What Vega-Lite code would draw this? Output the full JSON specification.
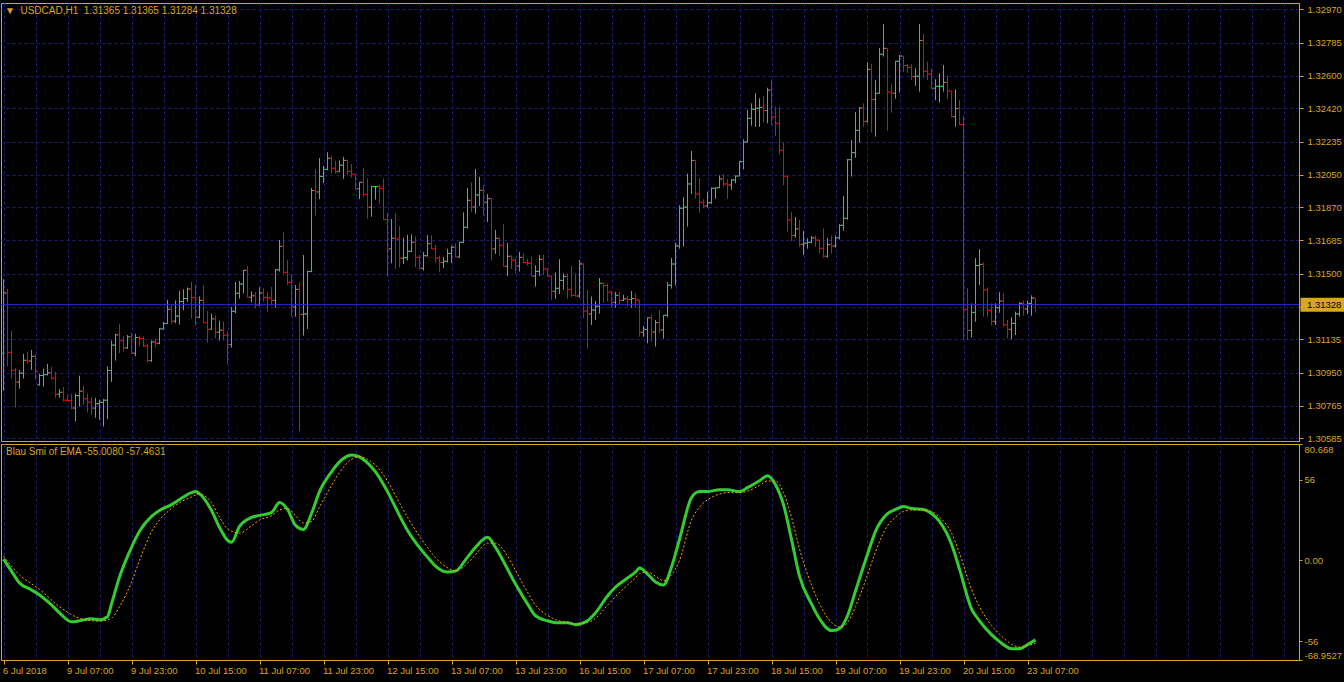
{
"$schema":"https://vega.github.io/schema/vega-lite/v6.json",
"background":"#000000",
"padding":{"left":0,"top":2,"right":10,"bottom":8},
"spacing":3,
"bounds":"flush",
"config":{
"view":{"stroke":"#DAA520","strokeWidth":1,"fill":"#000000"},
"axis":{"labelFont":"Liberation Sans","labelFontSize":9.5,"labelColor":"#DAA520","domainColor":"#DAA520","tickColor":"#DAA520","title":null},
"title":{"font":"Liberation Sans","fontSize":10,"fontWeight":"normal","color":"#DAA520","anchor":"start","frame":"group"}
},
"datasets":{
"bars":[
{"i":0,"o":1.31058,"h":1.31469,"l":1.30850,"c":1.31393},
{"i":1,"o":1.31393,"h":1.31415,"l":1.30984,"c":1.31063},
{"i":2,"o":1.31063,"h":1.31182,"l":1.30917,"c":1.30963},
{"i":3,"o":1.30963,"h":1.30976,"l":1.30756,"c":1.30897},
{"i":4,"o":1.30897,"h":1.30965,"l":1.30861,"c":1.30947},
{"i":5,"o":1.30947,"h":1.31054,"l":1.30917,"c":1.31019},
{"i":6,"o":1.31019,"h":1.31065,"l":1.31002,"c":1.31015},
{"i":7,"o":1.31015,"h":1.31076,"l":1.30965,"c":1.31041},
{"i":8,"o":1.31041,"h":1.31054,"l":1.30910,"c":1.30958},
{"i":9,"o":1.30882,"h":1.30943,"l":1.30878,"c":1.30934},
{"i":10,"o":1.30934,"h":1.30971,"l":1.30873,"c":1.30939},
{"i":11,"o":1.30939,"h":1.30999,"l":1.30934,"c":1.30949},
{"i":12,"o":1.30949,"h":1.30982,"l":1.30910,"c":1.30919},
{"i":13,"o":1.30919,"h":1.30956,"l":1.30811,"c":1.30830},
{"i":14,"o":1.30830,"h":1.30859,"l":1.30811,"c":1.30841},
{"i":15,"o":1.30841,"h":1.30870,"l":1.30789,"c":1.30797},
{"i":16,"o":1.30797,"h":1.30827,"l":1.30789,"c":1.30795},
{"i":17,"o":1.30795,"h":1.30833,"l":1.30747,"c":1.30753},
{"i":18,"o":1.30753,"h":1.30833,"l":1.30679,"c":1.30822},
{"i":19,"o":1.30822,"h":1.30933,"l":1.30762,"c":1.30847},
{"i":20,"o":1.30847,"h":1.30877,"l":1.30771,"c":1.30805},
{"i":21,"o":1.30805,"h":1.30833,"l":1.30728,"c":1.30786},
{"i":22,"o":1.30786,"h":1.30814,"l":1.30715,"c":1.30753},
{"i":23,"o":1.30753,"h":1.30810,"l":1.30699,"c":1.30777},
{"i":24,"o":1.30777,"h":1.30799,"l":1.30688,"c":1.30785},
{"i":25,"o":1.30785,"h":1.30804,"l":1.30651,"c":1.30797},
{"i":26,"o":1.30797,"h":1.30984,"l":1.30691,"c":1.30962},
{"i":27,"o":1.30962,"h":1.31129,"l":1.30899,"c":1.31103},
{"i":28,"o":1.31103,"h":1.31166,"l":1.31017,"c":1.31160},
{"i":29,"o":1.31160,"h":1.31221,"l":1.31058,"c":1.31127},
{"i":30,"o":1.31127,"h":1.31151,"l":1.31067,"c":1.31088},
{"i":31,"o":1.31088,"h":1.31160,"l":1.31082,"c":1.31149},
{"i":32,"o":1.31149,"h":1.31173,"l":1.31054,"c":1.31058},
{"i":33,"o":1.31058,"h":1.31166,"l":1.31041,"c":1.31145},
{"i":34,"o":1.31145,"h":1.31156,"l":1.31099,"c":1.31140},
{"i":35,"o":1.31140,"h":1.31152,"l":1.31093,"c":1.31099},
{"i":36,"o":1.31099,"h":1.31110,"l":1.31006,"c":1.31017},
{"i":37,"o":1.31017,"h":1.31129,"l":1.31010,"c":1.31121},
{"i":38,"o":1.31121,"h":1.31141,"l":1.31091,"c":1.31113},
{"i":39,"o":1.31113,"h":1.31197,"l":1.31108,"c":1.31193},
{"i":40,"o":1.31193,"h":1.31232,"l":1.31189,"c":1.31223},
{"i":41,"o":1.31223,"h":1.31354,"l":1.31220,"c":1.31302},
{"i":42,"o":1.31302,"h":1.31327,"l":1.31221,"c":1.31236},
{"i":43,"o":1.31236,"h":1.31351,"l":1.31225,"c":1.31264},
{"i":44,"o":1.31264,"h":1.31404,"l":1.31217,"c":1.31345},
{"i":45,"o":1.31345,"h":1.31414,"l":1.31297,"c":1.31362},
{"i":46,"o":1.31362,"h":1.31423,"l":1.31345,"c":1.31415},
{"i":47,"o":1.31415,"h":1.31454,"l":1.31251,"c":1.31367},
{"i":48,"o":1.31367,"h":1.31440,"l":1.31212,"c":1.31258},
{"i":49,"o":1.31258,"h":1.31373,"l":1.31252,"c":1.31352},
{"i":50,"o":1.31352,"h":1.31434,"l":1.31225,"c":1.31228},
{"i":51,"o":1.31228,"h":1.31293,"l":1.31117,"c":1.31191},
{"i":52,"o":1.31191,"h":1.31278,"l":1.31188,"c":1.31249},
{"i":53,"o":1.31249,"h":1.31267,"l":1.31141,"c":1.31175},
{"i":54,"o":1.31175,"h":1.31239,"l":1.31129,"c":1.31186},
{"i":55,"o":1.31186,"h":1.31234,"l":1.31129,"c":1.31158},
{"i":56,"o":1.31158,"h":1.31178,"l":1.30999,"c":1.31106},
{"i":57,"o":1.31106,"h":1.31314,"l":1.31089,"c":1.31291},
{"i":58,"o":1.31291,"h":1.31454,"l":1.31280,"c":1.31391},
{"i":59,"o":1.31391,"h":1.31460,"l":1.31362,"c":1.31443},
{"i":60,"o":1.31443,"h":1.31521,"l":1.31391,"c":1.31519},
{"i":61,"o":1.31519,"h":1.31543,"l":1.31367,"c":1.31369},
{"i":62,"o":1.31369,"h":1.31401,"l":1.31340,"c":1.31377},
{"i":63,"o":1.31377,"h":1.31397,"l":1.31308,"c":1.31327},
{"i":64,"o":1.31327,"h":1.31425,"l":1.31321,"c":1.31393},
{"i":65,"o":1.31393,"h":1.31419,"l":1.31345,"c":1.31369},
{"i":66,"o":1.31369,"h":1.31399,"l":1.31289,"c":1.31365},
{"i":67,"o":1.31365,"h":1.31426,"l":1.31323,"c":1.31352},
{"i":68,"o":1.31352,"h":1.31526,"l":1.31311,"c":1.31522},
{"i":69,"o":1.31522,"h":1.31688,"l":1.31512,"c":1.31652},
{"i":70,"o":1.31652,"h":1.31732,"l":1.31499,"c":1.31508},
{"i":71,"o":1.31508,"h":1.31576,"l":1.31437,"c":1.31452},
{"i":72,"o":1.31452,"h":1.31493,"l":1.31261,"c":1.31315},
{"i":73,"o":1.31315,"h":1.31437,"l":1.31261,"c":1.31413},
{"i":74,"o":1.31413,"h":1.31452,"l":1.30626,"c":1.31274},
{"i":75,"o":1.31274,"h":1.31604,"l":1.31156,"c":1.31276},
{"i":76,"o":1.31276,"h":1.31517,"l":1.31193,"c":1.31512},
{"i":77,"o":1.31512,"h":1.31977,"l":1.31508,"c":1.31962},
{"i":78,"o":1.31962,"h":1.32080,"l":1.31823,"c":1.31955},
{"i":79,"o":1.31955,"h":1.32143,"l":1.31915,"c":1.32041},
{"i":80,"o":1.32041,"h":1.32099,"l":1.32003,"c":1.32080},
{"i":81,"o":1.32080,"h":1.32175,"l":1.32075,"c":1.32142},
{"i":82,"o":1.32142,"h":1.32156,"l":1.32058,"c":1.32086},
{"i":83,"o":1.32086,"h":1.32127,"l":1.32056,"c":1.32069},
{"i":84,"o":1.32069,"h":1.32130,"l":1.32066,"c":1.32103},
{"i":85,"o":1.32103,"h":1.32149,"l":1.32027,"c":1.32130},
{"i":86,"o":1.32130,"h":1.32134,"l":1.32047,"c":1.32069},
{"i":87,"o":1.32069,"h":1.32110,"l":1.32034,"c":1.32053},
{"i":88,"o":1.32053,"h":1.32054,"l":1.31966,"c":1.31973},
{"i":89,"o":1.31973,"h":1.32010,"l":1.31915,"c":1.32008},
{"i":90,"o":1.32008,"h":1.32088,"l":1.31928,"c":1.31941},
{"i":91,"o":1.31941,"h":1.32029,"l":1.31806,"c":1.31869},
{"i":92,"o":1.31869,"h":1.31988,"l":1.31817,"c":1.31984},
{"i":93,"o":1.31984,"h":1.31988,"l":1.31912,"c":1.31984},
{"i":94,"o":1.31984,"h":1.31993,"l":1.31888,"c":1.31975},
{"i":95,"o":1.31975,"h":1.32030,"l":1.31799,"c":1.31801},
{"i":96,"o":1.31801,"h":1.31840,"l":1.31484,"c":1.31638},
{"i":97,"o":1.31638,"h":1.31804,"l":1.31558,"c":1.31697},
{"i":98,"o":1.31697,"h":1.31836,"l":1.31528,"c":1.31693},
{"i":99,"o":1.31693,"h":1.31764,"l":1.31536,"c":1.31586},
{"i":100,"o":1.31586,"h":1.31699,"l":1.31554,"c":1.31589},
{"i":101,"o":1.31589,"h":1.31717,"l":1.31573,"c":1.31625},
{"i":102,"o":1.31625,"h":1.31719,"l":1.31620,"c":1.31675},
{"i":103,"o":1.31675,"h":1.31708,"l":1.31537,"c":1.31591},
{"i":104,"o":1.31591,"h":1.31604,"l":1.31526,"c":1.31530},
{"i":105,"o":1.31530,"h":1.31621,"l":1.31517,"c":1.31600},
{"i":106,"o":1.31600,"h":1.31714,"l":1.31595,"c":1.31667},
{"i":107,"o":1.31667,"h":1.31714,"l":1.31636,"c":1.31638},
{"i":108,"o":1.31638,"h":1.31660,"l":1.31563,"c":1.31587},
{"i":109,"o":1.31587,"h":1.31600,"l":1.31508,"c":1.31563},
{"i":110,"o":1.31563,"h":1.31593,"l":1.31532,"c":1.31569},
{"i":111,"o":1.31569,"h":1.31638,"l":1.31562,"c":1.31613},
{"i":112,"o":1.31613,"h":1.31656,"l":1.31560,"c":1.31647},
{"i":113,"o":1.31647,"h":1.31669,"l":1.31589,"c":1.31593},
{"i":114,"o":1.31593,"h":1.31678,"l":1.31589,"c":1.31675},
{"i":115,"o":1.31675,"h":1.31841,"l":1.31670,"c":1.31758},
{"i":116,"o":1.31758,"h":1.31977,"l":1.31750,"c":1.31908},
{"i":117,"o":1.31908,"h":1.32008,"l":1.31843,"c":1.31871},
{"i":118,"o":1.31871,"h":1.32082,"l":1.31834,"c":1.31938},
{"i":119,"o":1.31938,"h":1.32038,"l":1.31877,"c":1.31964},
{"i":120,"o":1.31964,"h":1.31993,"l":1.31823,"c":1.31897},
{"i":121,"o":1.31897,"h":1.31943,"l":1.31788,"c":1.31917},
{"i":122,"o":1.31917,"h":1.31921,"l":1.31573,"c":1.31638},
{"i":123,"o":1.31638,"h":1.31743,"l":1.31610,"c":1.31697},
{"i":124,"o":1.31697,"h":1.31702,"l":1.31600,"c":1.31658},
{"i":125,"o":1.31658,"h":1.31777,"l":1.31539,"c":1.31541},
{"i":126,"o":1.31541,"h":1.31669,"l":1.31487,"c":1.31597},
{"i":127,"o":1.31597,"h":1.31602,"l":1.31526,"c":1.31576},
{"i":128,"o":1.31576,"h":1.31584,"l":1.31499,"c":1.31543},
{"i":129,"o":1.31543,"h":1.31621,"l":1.31512,"c":1.31591},
{"i":130,"o":1.31591,"h":1.31613,"l":1.31558,"c":1.31563},
{"i":131,"o":1.31563,"h":1.31582,"l":1.31545,"c":1.31558},
{"i":132,"o":1.31558,"h":1.31595,"l":1.31484,"c":1.31487},
{"i":133,"o":1.31487,"h":1.31547,"l":1.31428,"c":1.31513},
{"i":134,"o":1.31513,"h":1.31604,"l":1.31487,"c":1.31580},
{"i":135,"o":1.31580,"h":1.31604,"l":1.31493,"c":1.31526},
{"i":136,"o":1.31526,"h":1.31530,"l":1.31484,"c":1.31486},
{"i":137,"o":1.31486,"h":1.31490,"l":1.31354,"c":1.31402},
{"i":138,"o":1.31402,"h":1.31506,"l":1.31361,"c":1.31419},
{"i":139,"o":1.31419,"h":1.31580,"l":1.31387,"c":1.31463},
{"i":140,"o":1.31463,"h":1.31502,"l":1.31410,"c":1.31484},
{"i":141,"o":1.31484,"h":1.31502,"l":1.31361,"c":1.31413},
{"i":142,"o":1.31413,"h":1.31543,"l":1.31369,"c":1.31380},
{"i":143,"o":1.31380,"h":1.31502,"l":1.31373,"c":1.31376},
{"i":144,"o":1.31376,"h":1.31576,"l":1.31367,"c":1.31554},
{"i":145,"o":1.31554,"h":1.31558,"l":1.31254,"c":1.31293},
{"i":146,"o":1.31293,"h":1.31410,"l":1.31084,"c":1.31276},
{"i":147,"o":1.31276,"h":1.31373,"l":1.31215,"c":1.31298},
{"i":148,"o":1.31298,"h":1.31349,"l":1.31243,"c":1.31319},
{"i":149,"o":1.31319,"h":1.31476,"l":1.31278,"c":1.31447},
{"i":150,"o":1.31447,"h":1.31450,"l":1.31339,"c":1.31434},
{"i":151,"o":1.31434,"h":1.31443,"l":1.31347,"c":1.31397},
{"i":152,"o":1.31397,"h":1.31406,"l":1.31313,"c":1.31341},
{"i":153,"o":1.31341,"h":1.31399,"l":1.31311,"c":1.31380},
{"i":154,"o":1.31380,"h":1.31399,"l":1.31332,"c":1.31352},
{"i":155,"o":1.31352,"h":1.31382,"l":1.31347,"c":1.31360},
{"i":156,"o":1.31360,"h":1.31376,"l":1.31321,"c":1.31356},
{"i":157,"o":1.31356,"h":1.31404,"l":1.31311,"c":1.31362},
{"i":158,"o":1.31362,"h":1.31391,"l":1.31311,"c":1.31354},
{"i":159,"o":1.31354,"h":1.31356,"l":1.31150,"c":1.31175},
{"i":160,"o":1.31175,"h":1.31210,"l":1.31150,"c":1.31190},
{"i":161,"o":1.31190,"h":1.31258,"l":1.31113,"c":1.31255},
{"i":162,"o":1.31255,"h":1.31274,"l":1.31121,"c":1.31176},
{"i":163,"o":1.31176,"h":1.31243,"l":1.31095,"c":1.31228},
{"i":164,"o":1.31228,"h":1.31298,"l":1.31169,"c":1.31187},
{"i":165,"o":1.31187,"h":1.31271,"l":1.31139,"c":1.31269},
{"i":166,"o":1.31269,"h":1.31454,"l":1.31258,"c":1.31436},
{"i":167,"o":1.31436,"h":1.31588,"l":1.31417,"c":1.31554},
{"i":168,"o":1.31554,"h":1.31673,"l":1.31434,"c":1.31654},
{"i":169,"o":1.31654,"h":1.31880,"l":1.31639,"c":1.31864},
{"i":170,"o":1.31864,"h":1.31925,"l":1.31651,"c":1.31870},
{"i":171,"o":1.31870,"h":1.32056,"l":1.31762,"c":1.31999},
{"i":172,"o":1.31999,"h":1.32182,"l":1.31943,"c":1.32130},
{"i":173,"o":1.32130,"h":1.32132,"l":1.31917,"c":1.31943},
{"i":174,"o":1.31943,"h":1.32032,"l":1.31840,"c":1.31897},
{"i":175,"o":1.31897,"h":1.31914,"l":1.31864,"c":1.31877},
{"i":176,"o":1.31877,"h":1.31956,"l":1.31867,"c":1.31895},
{"i":177,"o":1.31895,"h":1.31980,"l":1.31888,"c":1.31975},
{"i":178,"o":1.31975,"h":1.31980,"l":1.31917,"c":1.31978},
{"i":179,"o":1.31978,"h":1.32047,"l":1.31975,"c":1.32027},
{"i":180,"o":1.32027,"h":1.32054,"l":1.31980,"c":1.31999},
{"i":181,"o":1.31999,"h":1.32027,"l":1.31917,"c":1.31993},
{"i":182,"o":1.31993,"h":1.32027,"l":1.31966,"c":1.32021},
{"i":183,"o":1.32021,"h":1.32047,"l":1.32003,"c":1.32043},
{"i":184,"o":1.32043,"h":1.32127,"l":1.32040,"c":1.32123},
{"i":185,"o":1.32123,"h":1.32247,"l":1.32080,"c":1.32232},
{"i":186,"o":1.32232,"h":1.32410,"l":1.32229,"c":1.32364},
{"i":187,"o":1.32364,"h":1.32447,"l":1.32323,"c":1.32414},
{"i":188,"o":1.32414,"h":1.32503,"l":1.32316,"c":1.32420},
{"i":189,"o":1.32420,"h":1.32475,"l":1.32316,"c":1.32425},
{"i":190,"o":1.32425,"h":1.32488,"l":1.32340,"c":1.32407},
{"i":191,"o":1.32407,"h":1.32534,"l":1.32336,"c":1.32521},
{"i":192,"o":1.32521,"h":1.32580,"l":1.32327,"c":1.32371},
{"i":193,"o":1.32371,"h":1.32429,"l":1.32266,"c":1.32336},
{"i":194,"o":1.32336,"h":1.32429,"l":1.32162,"c":1.32186},
{"i":195,"o":1.32186,"h":1.32229,"l":1.31993,"c":1.32042},
{"i":196,"o":1.32042,"h":1.32043,"l":1.31734,"c":1.31799},
{"i":197,"o":1.31799,"h":1.31843,"l":1.31680,"c":1.31713},
{"i":198,"o":1.31713,"h":1.31815,"l":1.31700,"c":1.31749},
{"i":199,"o":1.31749,"h":1.31799,"l":1.31650,"c":1.31663},
{"i":200,"o":1.31663,"h":1.31739,"l":1.31604,"c":1.31670},
{"i":201,"o":1.31670,"h":1.31697,"l":1.31639,"c":1.31675},
{"i":202,"o":1.31675,"h":1.31710,"l":1.31669,"c":1.31699},
{"i":203,"o":1.31699,"h":1.31713,"l":1.31650,"c":1.31687},
{"i":204,"o":1.31687,"h":1.31690,"l":1.31613,"c":1.31641},
{"i":205,"o":1.31641,"h":1.31752,"l":1.31589,"c":1.31597},
{"i":206,"o":1.31597,"h":1.31699,"l":1.31589,"c":1.31663},
{"i":207,"o":1.31663,"h":1.31713,"l":1.31613,"c":1.31654},
{"i":208,"o":1.31654,"h":1.31713,"l":1.31645,"c":1.31700},
{"i":209,"o":1.31700,"h":1.31775,"l":1.31690,"c":1.31769},
{"i":210,"o":1.31769,"h":1.31932,"l":1.31739,"c":1.31808},
{"i":211,"o":1.31808,"h":1.32138,"l":1.31800,"c":1.32134},
{"i":212,"o":1.32134,"h":1.32243,"l":1.32040,"c":1.32173},
{"i":213,"o":1.32173,"h":1.32399,"l":1.32145,"c":1.32297},
{"i":214,"o":1.32297,"h":1.32427,"l":1.32229,"c":1.32421},
{"i":215,"o":1.32421,"h":1.32447,"l":1.32317,"c":1.32347},
{"i":216,"o":1.32347,"h":1.32675,"l":1.32340,"c":1.32636},
{"i":217,"o":1.32636,"h":1.32666,"l":1.32284,"c":1.32469},
{"i":218,"o":1.32469,"h":1.32577,"l":1.32262,"c":1.32503},
{"i":219,"o":1.32503,"h":1.32755,"l":1.32500,"c":1.32720},
{"i":220,"o":1.32720,"h":1.32888,"l":1.32707,"c":1.32753},
{"i":221,"o":1.32753,"h":1.32755,"l":1.32295,"c":1.32510},
{"i":222,"o":1.32510,"h":1.32555,"l":1.32395,"c":1.32503},
{"i":223,"o":1.32503,"h":1.32683,"l":1.32473,"c":1.32681},
{"i":224,"o":1.32681,"h":1.32716,"l":1.32507,"c":1.32710},
{"i":225,"o":1.32710,"h":1.32712,"l":1.32621,"c":1.32658},
{"i":226,"o":1.32658,"h":1.32666,"l":1.32616,"c":1.32647},
{"i":227,"o":1.32647,"h":1.32666,"l":1.32577,"c":1.32595},
{"i":228,"o":1.32595,"h":1.32642,"l":1.32544,"c":1.32598},
{"i":229,"o":1.32598,"h":1.32888,"l":1.32512,"c":1.32796},
{"i":230,"o":1.32796,"h":1.32833,"l":1.32586,"c":1.32625},
{"i":231,"o":1.32625,"h":1.32679,"l":1.32577,"c":1.32610},
{"i":232,"o":1.32610,"h":1.32642,"l":1.32525,"c":1.32531},
{"i":233,"o":1.32531,"h":1.32581,"l":1.32466,"c":1.32542},
{"i":234,"o":1.32542,"h":1.32614,"l":1.32453,"c":1.32542},
{"i":235,"o":1.32542,"h":1.32660,"l":1.32512,"c":1.32564},
{"i":236,"o":1.32564,"h":1.32603,"l":1.32471,"c":1.32516},
{"i":237,"o":1.32516,"h":1.32518,"l":1.32369,"c":1.32373},
{"i":238,"o":1.32373,"h":1.32525,"l":1.32317,"c":1.32419},
{"i":239,"o":1.32419,"h":1.32466,"l":1.32327,"c":1.32329},
{"i":240,"o":1.32329,"h":1.32377,"l":1.31132,"c":1.31302},
{"i":241,"o":1.31302,"h":1.31419,"l":1.31132,"c":1.31185},
{"i":242,"o":1.31185,"h":1.31335,"l":1.31146,"c":1.31285},
{"i":243,"o":1.31285,"h":1.31586,"l":1.31233,"c":1.31545},
{"i":244,"o":1.31545,"h":1.31636,"l":1.31437,"c":1.31552},
{"i":245,"o":1.31552,"h":1.31563,"l":1.31261,"c":1.31410},
{"i":246,"o":1.31410,"h":1.31424,"l":1.31261,"c":1.31296},
{"i":247,"o":1.31296,"h":1.31335,"l":1.31213,"c":1.31235},
{"i":248,"o":1.31235,"h":1.31335,"l":1.31215,"c":1.31311},
{"i":249,"o":1.31311,"h":1.31397,"l":1.31283,"c":1.31348},
{"i":250,"o":1.31348,"h":1.31391,"l":1.31206,"c":1.31215},
{"i":251,"o":1.31215,"h":1.31243,"l":1.31141,"c":1.31191},
{"i":252,"o":1.31191,"h":1.31258,"l":1.31135,"c":1.31224},
{"i":253,"o":1.31224,"h":1.31289,"l":1.31159,"c":1.31276},
{"i":254,"o":1.31276,"h":1.31341,"l":1.31261,"c":1.31335},
{"i":255,"o":1.31335,"h":1.31350,"l":1.31267,"c":1.31304},
{"i":256,"o":1.31304,"h":1.31350,"l":1.31276,"c":1.31335},
{"i":257,"o":1.31335,"h":1.31380,"l":1.31267,"c":1.31365},
{"i":258,"o":1.31365,"h":1.31365,"l":1.31284,"c":1.31328}
],
"smi":[
{"i":0,"v":0.9},{"i":2,"v":-7.4},{"i":4,"v":-15.6},{"i":7,"v":-20.4},{"i":9,"v":-23.9},{"i":12,"v":-30.8},{"i":14,"v":-36.3},{"i":17,"v":-42.5},{"i":19,"v":-41.8},{"i":22,"v":-40.4},{"i":24,"v":-41.1},{"i":26,"v":-39.0},{"i":27,"v":-30.1},{"i":29,"v":-11.5},{"i":32,"v":9.1},{"i":34,"v":20.2},{"i":37,"v":30.5},{"i":39,"v":34.6},{"i":42,"v":38.7},{"i":44,"v":42.2},{"i":47,"v":47.0},{"i":48,"v":47.7},{"i":49,"v":46.3},{"i":52,"v":34.6},{"i":54,"v":22.9},{"i":56,"v":14.0},{"i":57,"v":12.6},{"i":59,"v":23.6},{"i":62,"v":29.8},{"i":64,"v":31.2},{"i":67,"v":33.2},{"i":69,"v":40.1},{"i":71,"v":35.3},{"i":73,"v":24.3},{"i":75,"v":21.5},{"i":77,"v":32.5},{"i":79,"v":47.7},{"i":82,"v":61.4},{"i":84,"v":68.3},{"i":87,"v":73.1},{"i":89,"v":71.7},{"i":91,"v":67.6},{"i":93,"v":61.4},{"i":96,"v":47.7},{"i":98,"v":36.7},{"i":101,"v":20.8},{"i":103,"v":12.6},{"i":106,"v":2.3},{"i":108,"v":-3.9},{"i":111,"v":-8.0},{"i":113,"v":-7.4},{"i":116,"v":2.3},{"i":118,"v":9.1},{"i":121,"v":16.0},{"i":123,"v":9.1},{"i":126,"v":-6.0},{"i":128,"v":-16.3},{"i":131,"v":-30.1},{"i":133,"v":-38.3},{"i":136,"v":-41.8},{"i":138,"v":-43.1},{"i":141,"v":-43.1},{"i":143,"v":-44.5},{"i":146,"v":-41.8},{"i":148,"v":-36.3},{"i":151,"v":-24.6},{"i":153,"v":-18.4},{"i":156,"v":-12.2},{"i":158,"v":-8.0},{"i":159,"v":-5.3},{"i":161,"v":-9.4},{"i":163,"v":-14.9},{"i":165,"v":-17.0},{"i":167,"v":-4.6},{"i":169,"v":14.6},{"i":172,"v":43.5},{"i":174,"v":47.7},{"i":176,"v":47.7},{"i":179,"v":49.0},{"i":181,"v":49.0},{"i":184,"v":47.7},{"i":186,"v":50.4},{"i":189,"v":55.2},{"i":191,"v":58.7},{"i":193,"v":52.5},{"i":195,"v":38.7},{"i":197,"v":14.6},{"i":199,"v":-10.8},{"i":202,"v":-30.1},{"i":204,"v":-40.4},{"i":207,"v":-48.6},{"i":209,"v":-47.2},{"i":211,"v":-38.3},{"i":213,"v":-21.1},{"i":216,"v":4.3},{"i":218,"v":20.2},{"i":221,"v":32.5},{"i":223,"v":35.3},{"i":225,"v":37.3},{"i":227,"v":36.0},{"i":230,"v":35.3},{"i":232,"v":32.5},{"i":234,"v":27.0},{"i":237,"v":11.2},{"i":239,"v":-6.0},{"i":242,"v":-33.5},{"i":244,"v":-41.8},{"i":247,"v":-51.4},{"i":249,"v":-56.2},{"i":252,"v":-61.1},{"i":254,"v":-61.1},{"i":256,"v":-58.3},{"i":258,"v":-55.008}
],
"sig":[
{"i":0,"v":3.0},{"i":4,"v":-10},{"i":9,"v":-20},{"i":14,"v":-32},{"i":19,"v":-40},{"i":24,"v":-42},{"i":27,"v":-40},{"i":29,"v":-32},{"i":32,"v":-15},{"i":34,"v":0},{"i":37,"v":20},{"i":39,"v":28},{"i":42,"v":36},{"i":44,"v":40},{"i":47,"v":44},{"i":49,"v":46},{"i":52,"v":40},{"i":54,"v":30},{"i":56,"v":22},{"i":59,"v":19},{"i":62,"v":24},{"i":64,"v":28},{"i":67,"v":31},{"i":69,"v":35},{"i":71,"v":36},{"i":73,"v":31},{"i":75,"v":26},{"i":77,"v":27},{"i":79,"v":37},{"i":82,"v":52},{"i":84,"v":61},{"i":87,"v":70},{"i":89,"v":72},{"i":91,"v":70},{"i":93,"v":66},{"i":96,"v":55},{"i":98,"v":45},{"i":101,"v":30},{"i":103,"v":21},{"i":106,"v":9},{"i":108,"v":2},{"i":111,"v":-5},{"i":113,"v":-7},{"i":116,"v":-2},{"i":118,"v":4},{"i":121,"v":12},{"i":123,"v":12},{"i":126,"v":3},{"i":128,"v":-7},{"i":131,"v":-22},{"i":133,"v":-31},{"i":136,"v":-38},{"i":138,"v":-41},{"i":141,"v":-43},{"i":143,"v":-44},{"i":146,"v":-43},{"i":148,"v":-40},{"i":151,"v":-31},{"i":153,"v":-25},{"i":156,"v":-17},{"i":158,"v":-12},{"i":159,"v":-9},{"i":161,"v":-8},{"i":163,"v":-11},{"i":165,"v":-14},{"i":167,"v":-10},{"i":169,"v":0},{"i":172,"v":28},{"i":174,"v":37},{"i":176,"v":42},{"i":179,"v":46},{"i":181,"v":47},{"i":184,"v":47},{"i":186,"v":48},{"i":189,"v":52},{"i":191,"v":55},{"i":193,"v":55},{"i":195,"v":47},{"i":197,"v":30},{"i":199,"v":8},{"i":202,"v":-17},{"i":204,"v":-30},{"i":207,"v":-43},{"i":209,"v":-46},{"i":211,"v":-43},{"i":213,"v":-32},{"i":216,"v":-10},{"i":218,"v":6},{"i":221,"v":24},{"i":223,"v":30},{"i":225,"v":34},{"i":227,"v":35},{"i":230,"v":35},{"i":232,"v":34},{"i":234,"v":30},{"i":237,"v":19},{"i":239,"v":5},{"i":242,"v":-20},{"i":244,"v":-32},{"i":247,"v":-45},{"i":249,"v":-51},{"i":252,"v":-58},{"i":254,"v":-60},{"i":256,"v":-59},{"i":258,"v":-57.4631}
],
"bid":[{"p":1.31328,"label":"1.31328"}]
},
"vconcat":[
{
"width":1298,"height":438,
"title":{"text":"\u25BC\u00a0\u00a0USDCAD,H1\u00a0\u00a01.31365 1.31365 1.31284 1.31328","offset":-13,"dx":4},
"layer":[
{"data":{"name":"bars"},"mark":{"type":"rule","strokeWidth":1},
"encoding":{
"x":{"field":"i","type":"quantitative","scale":{"domain":[-0.625,323.875],"nice":false,"zero":false},
"axis":{"orient":"bottom","values":[0,8,16,24,32,40,48,56,64,72,80,88,96,104,112,120,128,136,144,152,160,168,176,184,192,200,208,216,224,232,240,248,256,264,272,280,288,296,304,312,320],"tickCount":200,"grid":true,"gridColor":"#1d1d7a","gridDash":[3,3],"labels":false,"ticks":false,"domain":false,"minExtent":0,"maxExtent":0,"labelPadding":0,"offset":0}},
"y":{"field":"l","type":"quantitative","scale":{"domain":[1.3057,1.33005],"nice":false,"zero":false},
"axis":{"orient":"right","values":[1.3297,1.32785,1.326,1.3242,1.32235,1.3205,1.3187,1.31685,1.315,1.31317,1.31135,1.3095,1.30765,1.30585],"tickCount":200,"labelExpr":"datum.value == 1.31317 ? '' : format(datum.value, '.5f')","grid":true,"gridColor":"#1d1d7a","gridDash":[3,3],"tickSize":4,"labelPadding":4,"labelBaseline":"middle","labelOverlap":false,"labelFlush":false}},
"y2":{"field":"h"},
"color":{"condition":[{"test":"datum.c > datum.o","value":"#52b07e"},{"test":"datum.c < datum.o","value":"#ff0000"}],"value":"#00ff00"}
}},
{"data":{"name":"bars"},"mark":{"type":"rule","strokeWidth":1,"xOffset":-2.5,"x2Offset":-0.5},
"encoding":{"x":{"field":"i","type":"quantitative"},"x2":{"field":"i"},"y":{"field":"o","type":"quantitative"},
"color":{"condition":[{"test":"datum.c > datum.o","value":"#52b07e"},{"test":"datum.c < datum.o","value":"#ff0000"}],"value":"#00ff00"}}},
{"data":{"name":"bars"},"mark":{"type":"rule","strokeWidth":1,"xOffset":0.5,"x2Offset":2.5},
"encoding":{"x":{"field":"i","type":"quantitative"},"x2":{"field":"i"},"y":{"field":"c","type":"quantitative"},
"color":{"condition":[{"test":"datum.c > datum.o","value":"#52b07e"},{"test":"datum.c < datum.o","value":"#ff0000"}],"value":"#00ff00"}}},
{"data":{"name":"bid"},"mark":{"type":"rule","color":"#2a2ad2","strokeWidth":1},
"encoding":{"y":{"field":"p","type":"quantitative"}}},
{"data":{"name":"bid"},"mark":{"type":"rect","color":"#DAA520","height":14,"clip":false},
"encoding":{"x":{"datum":324.25,"type":"quantitative"},"x2":{"datum":335.125},"y":{"field":"p","type":"quantitative"}}},
{"data":{"name":"bid"},"mark":{"type":"text","align":"left","baseline":"middle","font":"Liberation Sans","fontSize":9.5,"color":"#000000","clip":false},
"encoding":{"x":{"datum":325.875,"type":"quantitative"},"y":{"field":"p","type":"quantitative"},"text":{"field":"label"}}}
]
},
{
"width":1298,"height":216,
"title":{"text":"Blau Smi of EMA -55.0080 -57.4631","offset":-13,"dx":5},
"layer":[
{"mark":{"type":"rule","color":"#c855dd","strokeDash":[3,3],"strokeWidth":1},"encoding":{"y":{"datum":56,"type":"quantitative"}}},
{"mark":{"type":"rule","color":"#c855dd","strokeDash":[3,3],"strokeWidth":1},"encoding":{"y":{"datum":-56,"type":"quantitative"}}},
{"mark":{"type":"rule","color":"#8c8c55","strokeDash":[2,2],"strokeWidth":1},"encoding":{"y":{"datum":0,"type":"quantitative"}}},
{"data":{"name":"smi"},"mark":{"type":"line","color":"#32cd32","strokeWidth":3,"interpolate":"monotone","strokeJoin":"round"},
"encoding":{
"x":{"field":"i","type":"quantitative","scale":{"domain":[-0.625,323.875],"nice":false,"zero":false},
"axis":{"orient":"bottom","values":[0,8,16,24,32,40,48,56,64,72,80,88,96,104,112,120,128,136,144,152,160,168,176,184,192,200,208,216,224,232,240,248,256,264,272,280,288,296,304,312,320],"tickCount":200,"grid":true,"gridColor":"#1d1d7a","gridDash":[3,3],"tickSize":4,"tickColor":{"condition":{"test":"datum.value % 16 === 0 && datum.value <= 256","value":"#DAA520"},"value":"rgba(0,0,0,0)"},"labelExpr":"datum.value % 16 === 0 && datum.value <= 256 ? ['6 Jul 2018','9 Jul 07:00','9 Jul 23:00','10 Jul 15:00','11 Jul 07:00','11 Jul 23:00','12 Jul 15:00','13 Jul 07:00','13 Jul 23:00','16 Jul 15:00','17 Jul 07:00','17 Jul 23:00','18 Jul 15:00','19 Jul 07:00','19 Jul 23:00','20 Jul 15:00','23 Jul 07:00'][datum.value / 16] : ''","labelAlign":"left","labelBaseline":"top","labelPadding":1,"labelFlush":false,"labelOverlap":false,"labelOffset":-1}},
"y":{"field":"v","type":"quantitative","scale":{"domain":[-68.9527,80.668],"nice":false,"zero":false},
"axis":{"orient":"right","values":[80.668,56,0,-56,-68.9527],"tickCount":200,"labelExpr":"datum.value === 0 ? '0.00' : '' + datum.value","labelFlush":true,"labelOverlap":false,"grid":false,"tickSize":3,"labelPadding":2}}
}},
{"data":{"name":"sig"},"mark":{"type":"line","color":"#ffa500","strokeWidth":1,"strokeDash":[2,2],"interpolate":"monotone"},
"encoding":{"x":{"field":"i","type":"quantitative"},"y":{"field":"v","type":"quantitative"}}}
]
}
]
}
